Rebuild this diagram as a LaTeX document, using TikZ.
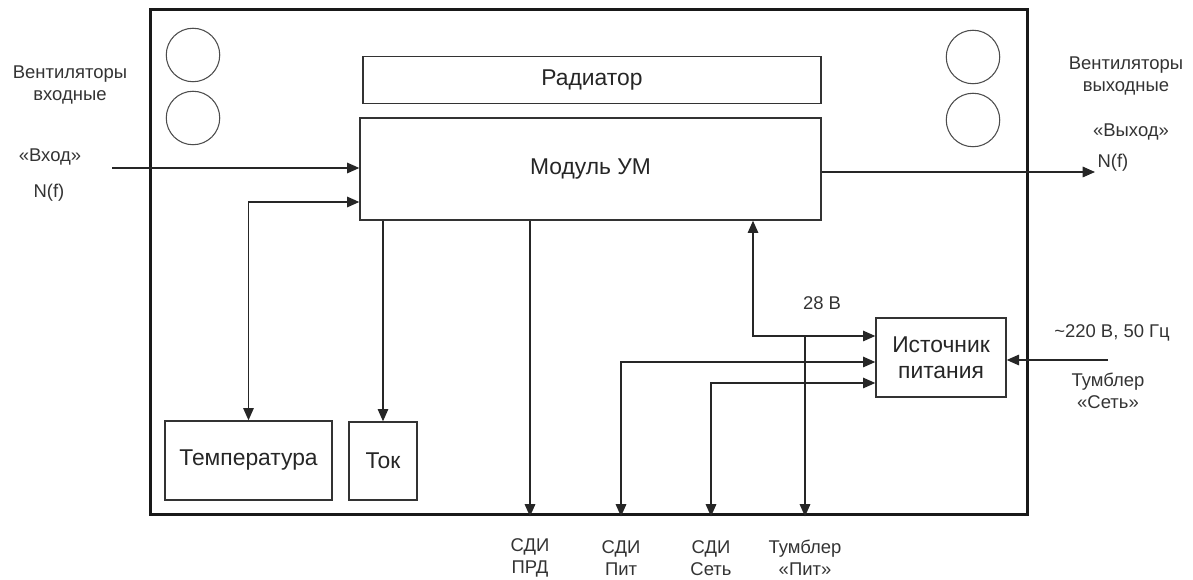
\documentclass[tikz,border=0pt]{standalone}
\usepackage{fontspec}
\setmainfont{Liberation Sans}
\usetikzlibrary{arrows.meta}
\tikzset{
  conn/.style={-{Triangle[length=7pt,width=6pt]}, line width=0.8pt, draw=black!85},
  conn2/.style={{Triangle[length=7pt,width=6pt]}-{Triangle[length=7pt,width=6pt]}, line width=0.8pt, draw=black!85},
  block/.style={draw=black!80, line width=0.8pt, inner sep=0pt, align=center, font=\fontsize{13}{15}\selectfont, text=black!85},
  lbl/.style={font=\fontsize{10.5}{12.5}\selectfont, align=center, text=black!80},
  fan/.style={draw=black!70, line width=0.6pt, circle, inner sep=0pt, minimum size=1.07cm}
}

\begin{document}
\begin{tikzpicture}[x=0.02cm, y=-0.02cm]
    \useasboundingbox (0,0) rectangle (1193,580);

    % Case
    \node[draw=black!90, line width=1.7pt, inner sep=0pt, minimum width=17.56cm, minimum height=10.12cm] (case) at (589,262) {};

    % Fans
    \foreach \y [count=\i] in {55,118} {
        \node[fan] (fanl\i) at (193,\y) {};
        \node[fan] (fanr\i) at (973,\y+2) {};
    }

    % Blocks
    \node[block, minimum width=9.16cm, minimum height=0.94cm] (rad) at (592,80) {Радиатор};
    \node[block, minimum width=9.22cm, minimum height=2.04cm] (um) at (590.5,169) {Модуль УМ};
    \node[block, minimum width=3.34cm, minimum height=1.58cm] (temp) at (248.5,460.5) {Температура};
    \node[block, minimum width=1.36cm, minimum height=1.56cm] (tok) at (383,461) {Ток};
    \node[block, minimum width=2.6cm, minimum height=1.58cm] (src) at (941,357.5) {Источник\\питания};

    % Labels outside
    \node[lbl] (fanin) at (70,85) {Вентиляторы\\входные};
    \node[lbl] (inlbl) at (50,157) {«Вход»};
    \node[lbl] (inN) at (49,193) {N(f)};
    \node[lbl] (fanout) at (1126,76) {Вентиляторы\\выходные};
    \node[lbl] (outlbl) at (1131,132) {«Выход»};
    \node[lbl] (outN) at (1113,163) {N(f)};
    \node[lbl] (v28) at (822,303) {28 В};
    \node[lbl] (net) at (1112,333) {\textasciitilde220 В, 50 Гц};
    \node[lbl] (tset) at (1108,391) {Тумблер\\«Сеть»};

    % Bottom labels
    \node[lbl] (prd) at (530,558) {СДИ\\ПРД};
    \node[lbl] (sdipit) at (621,558) {СДИ\\Пит};
    \node[lbl] (sdiset) at (711,558) {СДИ\\Сеть};
    \node[lbl] (tpit) at (805,558) {Тумблер\\«Пит»};

    % Signal path
    \coordinate (in) at (112,168);
    \coordinate (out) at (1095,172);
    \draw[conn] (in) -- (in -| um.west);
    \draw[conn] (um.east |- out) -- (out);

    % Sensors
    \draw[conn2] (temp.north) |- (um.west |- 0,202);
    \draw[conn] (um.south -| tok.north) -- (tok.north);
    \draw[conn] (um.south -| prd) -- (case.south -| prd);

    % Power
    \draw[conn2] (um.south -| 753,0) |- (src.west |- 0,336);
    \draw[conn] (tpit |- 0,336) -- (case.south -| tpit);
    \draw[conn2] (case.south -| sdipit) |- (src.west |- 0,362);
    \draw[conn2] (case.south -| sdiset) |- (src.west |- 0,383);
    \coordinate (mains) at (1108,360);
    \draw[conn] (mains) -- (mains -| src.east);
\end{tikzpicture}
\end{document}
